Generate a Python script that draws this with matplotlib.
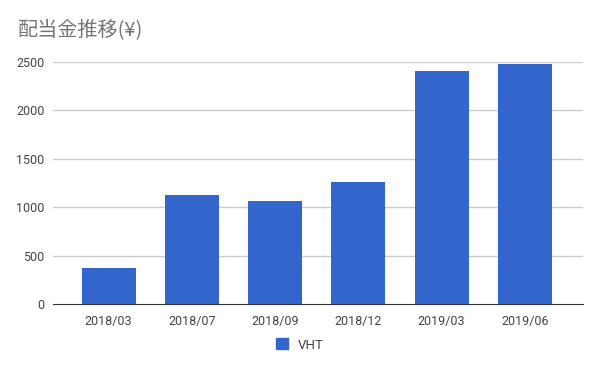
import matplotlib
matplotlib.use("Agg")
import matplotlib.pyplot as plt
from matplotlib.patches import Patch

plt.rcParams['font.family'] = ['Roboto', 'Noto Sans CJK JP', 'DejaVu Sans']

categories = ["2018/03", "2018/07", "2018/09", "2018/12", "2019/03", "2019/06"]
values = [372, 1126, 1064, 1262, 2407, 2479]
yticks = [0, 500, 1000, 1500, 2000, 2500]
series_name = "VHT"
title = "配当金推移(¥)"

fig = plt.figure(figsize=(6, 3.71), dpi=100)
ax = fig.add_axes([53/600, 1-304/371, 530/600, (304-62)/371])
x = list(range(len(categories)))
ax.bar(x, values, width=0.65, color="#3366cc", zorder=3)
ax.set_xlim(-0.67, len(categories) - 1 + 0.7)
ax.set_ylim(0, 2500)
ax.set_yticks(yticks)
ax.set_xticks(x)
ax.set_xticklabels(categories)
ax.grid(axis='y', color="#cccccc", linewidth=1, zorder=0)
ax.set_axisbelow(True)
for s in ['top', 'right', 'left']:
    ax.spines[s].set_visible(False)
ax.spines['bottom'].set_color("#333333")
ax.spines['bottom'].set_zorder(4)
ax.tick_params(axis='both', length=0, labelsize=9, colors="#444444", pad=8)
ax.tick_params(axis='y', pad=6)
ax.yaxis.get_gridlines()[0].set_visible(False)

fig.text(18/600, 1-31/371, title, fontsize=14.5, color="#757575", va='center', ha='left',
         family=['Noto Sans CJK JP', 'DejaVu Sans'])

fig.legend(handles=[Patch(color="#3366cc", label=series_name)], loc='center',
           bbox_to_anchor=(0.5, 1-345/371), frameon=False, fontsize=9.5,
           handlelength=0.9, handleheight=0.9, labelcolor="#444444")

fig.savefig("out.png", dpi=100)
